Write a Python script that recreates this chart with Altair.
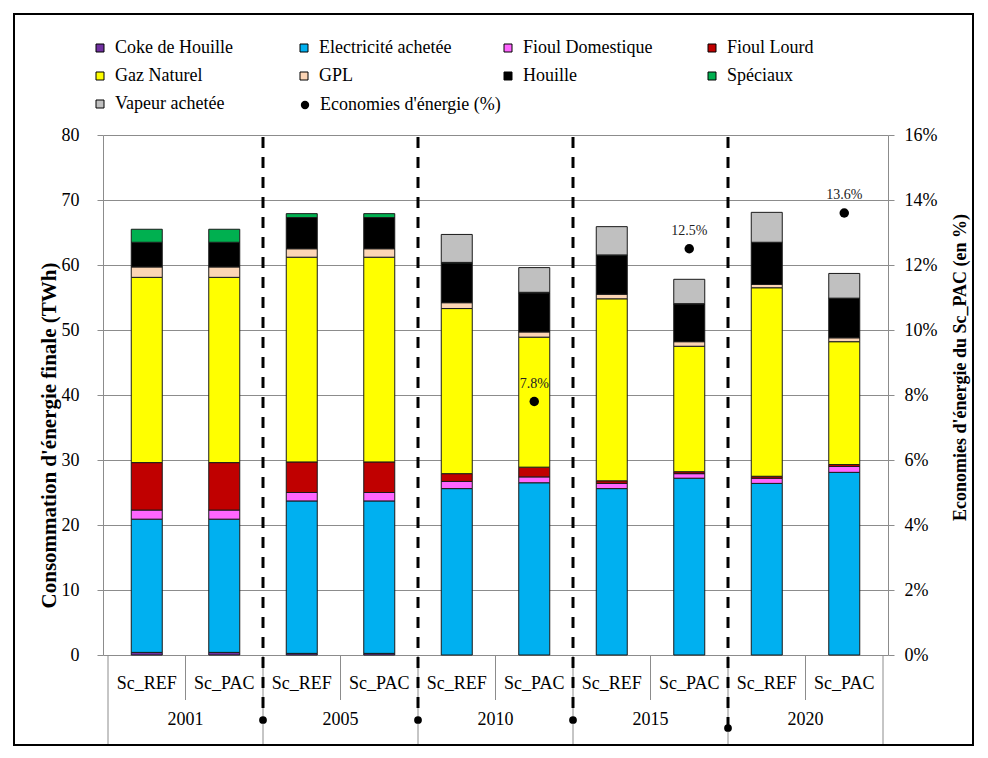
import altair as alt
import pandas as pd

# ---------------- data ----------------
years = ["2001", "2005", "2010", "2015", "2020"]
scenarios = ["Sc_REF", "Sc_PAC"]
fuels = ["Coke de Houille", "Electricité achetée", "Fioul Domestique", "Fioul Lourd",
         "Gaz Naturel", "GPL", "Houille", "Spéciaux", "Vapeur achetée"]
colors = ["#7030A0", "#00B0F0", "#FF66FF", "#C00000", "#FFFF00",
          "#FCD5B5", "#000000", "#00B050", "#C0C0C0"]

# order: 2001 REF, 2001 PAC, 2005 REF, 2005 PAC, ... (TWh)
coke        = [0.4, 0.4, 0.25, 0.25, 0, 0, 0, 0, 0, 0]
elec        = [20.5, 20.5, 23.45, 23.45, 25.6, 26.5, 25.6, 27.2, 26.4, 28.1]
fioul_dom   = [1.4, 1.4, 1.3, 1.3, 1.1, 0.9, 0.8, 0.7, 0.8, 0.9]
fioul_lourd = [7.3, 7.3, 4.7, 4.7, 1.2, 1.5, 0.4, 0.3, 0.3, 0.3]
gaz         = [28.5, 28.5, 31.5, 31.5, 25.4, 20.0, 28.0, 19.3, 29.0, 18.9]
gpl         = [1.6, 1.6, 1.3, 1.3, 0.9, 0.8, 0.7, 0.7, 0.5, 0.6]
houille     = [3.8, 3.8, 4.8, 4.8, 6.1, 6.0, 6.0, 5.8, 6.45, 6.05]
speciaux    = [2.0, 2.0, 0.6, 0.6, 0.1, 0.1, 0.05, 0.05, 0.05, 0.05]
vapeur      = [0, 0, 0, 0, 4.3, 3.8, 4.35, 3.75, 4.6, 3.8]
economies   = [None, None, None, None, None, 0.078, None, 0.125, None, 0.136]
eco_label = "Economies d'énergie (%)"

series = [coke, elec, fioul_dom, fioul_lourd, gaz, gpl, houille, speciaux, vapeur]

# ---------------- tables ----------------
slots = []
for yi, y in enumerate(years):
    for si, s in enumerate(scenarios):
        slots.append({"year": y, "scen": s, "pos": yi * 2 + si + 0.5})

rows = []
for fi, (f, vals) in enumerate(zip(fuels, series)):
    for k, v in enumerate(vals):
        if v > 0:
            rows.append({"fuel": f, "idx": fi, "value": v, "pos": slots[k]["pos"]})
bars_df = pd.DataFrame(rows)

eco_df = pd.DataFrame([{"pos": slots[k]["pos"], "eco": e, "serie": eco_label}
                       for k, e in enumerate(economies) if e is not None])

slot_df = pd.DataFrame(slots)
year_df = pd.DataFrame({"year": years, "pos": [i * 2 + 1 for i in range(len(years))]})
inner_sep = pd.DataFrame({"pos": [i * 2 + 1 for i in range(len(years))]})
group_sep = pd.DataFrame({"pos": [i * 2 for i in range(len(years) + 1)]})
dash_df = pd.DataFrame({"pos": [i * 2 for i in range(1, len(years) - 1)]})
dash_last = pd.DataFrame({"pos": [(len(years) - 1) * 2]})
one = pd.DataFrame({"a": [0]})

W, H = 785, 520
FONT = "Liberation Serif"
GRID = "#8c8c8c"

xs = alt.X("pos:Q", scale=alt.Scale(domain=[0, 10], nice=False, zero=False), axis=None)

bars = alt.Chart(bars_df).mark_bar(size=31, stroke="#1a1a1a", strokeWidth=1).encode(
    x=xs,
    y=alt.Y("value:Q", stack="zero",
            scale=alt.Scale(domain=[0, 80], nice=False),
            axis=alt.Axis(values=list(range(0, 81, 10)), grid=True, gridColor=GRID,
                          domainColor=GRID, tickColor=GRID, tickSize=6,
                          labelFont=FONT, labelFontSize=18, labelColor="black",
                          labelPadding=18,
                          title="Consommation d'énergie finale (TWh)",
                          titleFont=FONT, titleFontSize=21, titleFontWeight="bold",
                          titleColor="black", titleAngle=270, titleX=-54, titleY=300,
                          titleAlign="center", titleBaseline="middle")),
    color=alt.Color("fuel:N", scale=alt.Scale(domain=fuels, range=colors),
                    legend=alt.Legend(orient="none", legendX=-12, legendY=-96, columns=4,
                                      direction="horizontal",
                                      title=None, symbolType="square", symbolSize=64,
                                      symbolStrokeColor="black", symbolStrokeWidth=1,
                                      labelFont=FONT, labelFontSize=18, labelColor="black",
                                      labelOffset=6, columnPadding=47, rowPadding=10,
                                      gridAlign="all", padding=0, labelLimit=300)),
    order=alt.Order("idx:Q", sort="ascending"),
)

pts = alt.Chart(eco_df).mark_circle(size=90, opacity=1).encode(
    x=xs,
    y=alt.Y("eco:Q", scale=alt.Scale(domain=[0, 0.16], nice=False),
            axis=alt.Axis(orient="right", format=".0%",
                          values=[i / 100 for i in range(0, 17, 2)], grid=False,
                          domainColor=GRID, tickColor=GRID, tickSize=6,
                          labelFont=FONT, labelFontSize=18, labelColor="black",
                          labelPadding=10,
                          title="Economies d'énergie du Sc_PAC (en %)",
                          titleFont=FONT, titleFontSize=18, titleFontWeight="bold",
                          titleColor="black", titleAngle=270, titleX=72, titleY=232,
                          titleAlign="center", titleBaseline="middle")),
    color=alt.Color("serie:N", scale=alt.Scale(domain=[eco_label], range=["black"]),
                    legend=alt.Legend(orient="none", legendX=193, legendY=-39,
                                      title=None, symbolType="circle", symbolSize=70,
                                      labelFont=FONT, labelFontSize=18, labelColor="black",
                                      labelOffset=6, padding=0, labelLimit=300)),
)
pt_labels = alt.Chart(eco_df).mark_text(dy=-18, font=FONT, fontSize=14, color="#222").encode(
    x=xs,
    y=alt.Y("eco:Q"),
    text=alt.Text("eco:Q", format=".1%"),
)
right_layer = alt.layer(pts, pt_labels)

inner_rules = alt.Chart(inner_sep).mark_rule(color=GRID, strokeWidth=1).encode(
    x=xs, y=alt.value(H), y2=alt.value(H + 45))
group_rules = alt.Chart(group_sep).mark_rule(color=GRID, strokeWidth=1).encode(
    x=xs, y=alt.value(H), y2=alt.value(H + 90))

sub_text = alt.Chart(slot_df).mark_text(font=FONT, fontSize=18, color="black",
                                        baseline="middle").encode(
    x=xs, y=alt.value(H + 29), text="scen:N")
year_text = alt.Chart(year_df).mark_text(font=FONT, fontSize=18, color="black",
                                         baseline="middle").encode(
    x=xs, y=alt.value(H + 65), text="year:N")

dash_rules = alt.Chart(dash_df).mark_rule(color="black", strokeWidth=3,
                                          strokeDash=[11, 9]).encode(
    x=xs, y=alt.value(2), y2=alt.value(H + 65))
dash_dots = alt.Chart(dash_df).mark_circle(color="black", size=60, opacity=1).encode(
    x=xs, y=alt.value(H + 65))
dash_rule_last = alt.Chart(dash_last).mark_rule(color="black", strokeWidth=3,
                                                strokeDash=[11, 9]).encode(
    x=xs, y=alt.value(2), y2=alt.value(H + 73))
dash_dot_last = alt.Chart(dash_last).mark_circle(color="black", size=60, opacity=1).encode(
    x=xs, y=alt.value(H + 73))

border = alt.Chart(one).mark_rect(fillOpacity=0, stroke="black", strokeWidth=2).encode(
    x=alt.value(-89), x2=alt.value(870), y=alt.value(-121), y2=alt.value(610))

chart = alt.layer(
    bars, right_layer,
    inner_rules, group_rules, sub_text, year_text,
    dash_rules, dash_dots, dash_rule_last, dash_dot_last, border,
).resolve_scale(
    y="independent", color="independent"
).properties(
    width=W, height=H,
    autosize=alt.AutoSizeParams(type="none"),
    padding={"left": 95, "top": 127, "right": 92, "bottom": 100},
    background="white",
).configure(
    font=FONT
).configure_view(
    stroke=None
).configure_axis(
    labelFont=FONT, titleFont=FONT
).configure_legend(
    labelFont=FONT
).configure_text(
    font=FONT
)

chart.save("out.html", embed_options={"renderer": "svg", "actions": False})
